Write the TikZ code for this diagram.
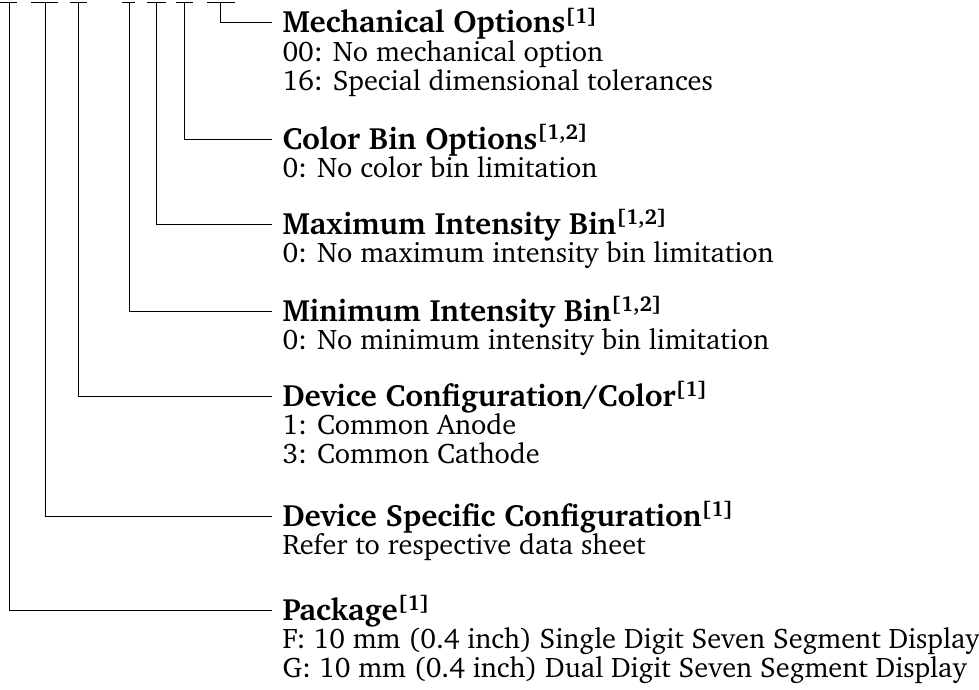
\documentclass[tikz,border=0pt]{standalone}
\usepackage[T1]{fontenc}
\usepackage{charter}
\usetikzlibrary{positioning}
\newcommand{\hd}[1]{{\fontsize{30.8}{26}\selectfont\bfseries #1}}
\begin{document}
\begin{tikzpicture}[x=1pt,y=-1pt,line width=1pt,
  sect/.style={anchor=base west,inner xsep=10pt,inner ysep=0pt,
    font=\fontsize{28.3}{26}\selectfont}]
\useasboundingbox (0,0) rectangle (979,690);
\coordinate (t1) at (9,3);
\coordinate (t2) at (45,3);
\coordinate (t3) at (78,3);
\coordinate (t4) at (129,3);
\coordinate (t5) at (156,3);
\coordinate (t6) at (184,3);
\coordinate (t7) at (220,3);
\draw (0,3)--(17,3);
\draw (31,3)--(58,3);
\draw (70,3)--(87,3);
\draw (122,3)--(135,3);
\draw (147,3)--(166,3);
\draw (176,3)--(193,3);
\draw (207,3)--(235,3);
\node[sect] (mech) at (272,33) {\begin{tabular}[t]{@{}l@{}}\hd{Mechanical Options\textsuperscript{[1]}}\\00: No mechanical option\\16: Special dimensional tolerances\end{tabular}};
\node[sect] (colbin) at (272,149) {\begin{tabular}[t]{@{}l@{}}\hd{Color Bin Options\textsuperscript{[1,2]}}\\0: No color bin limitation\end{tabular}};
\node[sect] (maxbin) at (272,234) {\begin{tabular}[t]{@{}l@{}}\hd{Maximum Intensity Bin\textsuperscript{[1,2]}}\\0: No maximum intensity bin limitation\end{tabular}};
\node[sect] (minbin) at (272,321) {\begin{tabular}[t]{@{}l@{}}\hd{Minimum Intensity Bin\textsuperscript{[1,2]}}\\0: No minimum intensity bin limitation\end{tabular}};
\node[sect] (devcfg) at (272,406) {\begin{tabular}[t]{@{}l@{}}\hd{Device Configuration/Color\textsuperscript{[1]}}\\1: Common Anode\\3: Common Cathode\end{tabular}};
\node[sect] (devspec) at (272,526) {\begin{tabular}[t]{@{}l@{}}\hd{Device Specific Configuration\textsuperscript{[1]}}\\Refer to respective data sheet\end{tabular}};
\node[sect] (pkg) at (272,620) {\begin{tabular}[t]{@{}l@{}}\hd{Package\textsuperscript{[1]}}\\F: 10 mm (0.4 inch) Single Digit Seven Segment Display\\G: 10 mm (0.4 inch) Dual Digit Seven Segment Display\end{tabular}};
\draw (t7) |- ([yshift=10pt]mech.base west);
\draw (t6) |- ([yshift=10pt]colbin.base west);
\draw (t5) |- ([yshift=10pt]maxbin.base west);
\draw (t4) |- ([yshift=10pt]minbin.base west);
\draw (t3) |- ([yshift=10pt]devcfg.base west);
\draw (t2) |- ([yshift=10pt]devspec.base west);
\draw (t1) |- ([yshift=10pt]pkg.base west);
\end{tikzpicture}
\end{document}
